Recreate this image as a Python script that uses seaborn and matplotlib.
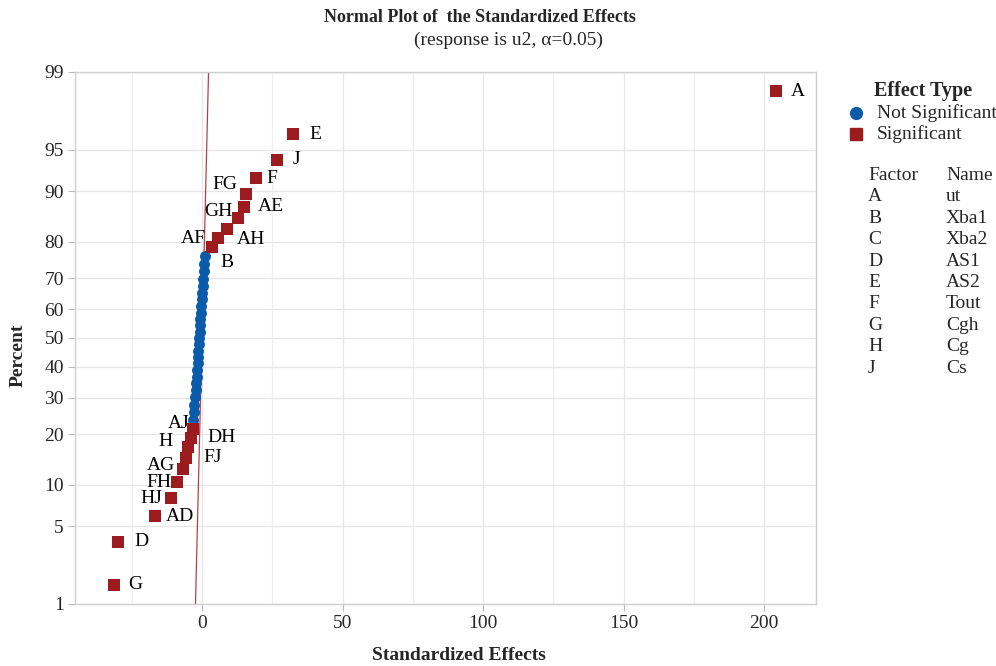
import matplotlib
matplotlib.use("Agg")
import matplotlib.pyplot as plt
from matplotlib.ticker import FixedLocator
import seaborn as sns
import pandas as pd
import numpy as np
from statistics import NormalDist

# ---------------- data ----------------
# standardized effects, sorted ascending (45 effects: 9 main + 36 two-way)
effect_values = [-31.3, -29.8, -16.7, -11.1, -8.8, -6.6, -5.7, -4.9, -3.9, -3.1,
                 -3.3, -3.0, -2.75, -2.5, -2.3, -2.1, -1.9, -1.75, -1.6, -1.45,
                 -1.3, -1.15, -1.0, -0.85, -0.7, -0.55, -0.4, -0.25, -0.1, 0.05,
                 0.2, 0.4, 0.6, 0.85, 1.1,
                 3.4, 5.6, 9.0, 12.9, 15.1, 15.5, 19.2, 26.8, 32.5, 204.3]
effect_labels = ["G", "D", "AD", "HJ", "FH", "AG", "FJ", "H", "DH", "AJ"] + [""] * 25 + \
                ["B", "AF", "AH", "GH", "AE", "FG", "F", "J", "E", "A"]
effect_type = ["Significant"] * 10 + ["Not Significant"] * 25 + ["Significant"] * 10
# label offsets in pixels (dx, dy)
label_dx = [14, 16, 11, -9, -6, -8, 17, -16, 16, -4] + [0] * 25 + \
           [9, -12, 10, -6, 13, -8, 10, 15, 16, 15]
label_dy = [0, 0, 0, -1, 0, 4, 0, 6, 0, 5] + [0] * 25 + \
           [-15, 0, -11, 7, 0, 9, 0, 0, 0, 0]

percent_ticks = [1, 5, 10, 20, 30, 40, 50, 60, 70, 80, 90, 95, 99]
x_ticks = [0, 50, 100, 150, 200]
x_minor = [-25, 25, 75, 125, 175]

factor_letters = ["A", "B", "C", "D", "E", "F", "G", "H", "J"]
factor_names = ["ut", "Xba1", "Xba2", "AS1", "AS2", "Tout", "Cgh", "Cg", "Cs"]

# ---------------- build frame ----------------
nd = NormalDist()
n = len(effect_values)
ranks = np.arange(1, n + 1)
pct = (ranks - 0.3) / (n + 0.4)
df = pd.DataFrame({"effect": effect_values, "label": effect_labels,
                   "type": effect_type, "z": [nd.inv_cdf(p) for p in pct],
                   "dx": label_dx, "dy": label_dy})

sns.set_theme(style="white")
plt.rcParams["font.family"] = ["Liberation Serif", "DejaVu Serif"]

RED = "#9B1B1E"
BLUE = "#0A5BAA"
LFS = 14

fig = plt.figure(figsize=(9.96, 6.66), dpi=100)
ax = fig.add_axes([75 / 996, 1 - 604 / 666, (816 - 75) / 996, (604 - 72) / 666])

zlo, zhi = nd.inv_cdf(0.01), nd.inv_cdf(0.99)

# reference line
ref = pd.DataFrame({"x": [zlo * 1.2, zhi * 1.2], "z": [zlo * 1.2, zhi * 1.2]})
sns.lineplot(data=ref, x="x", y="z", ax=ax, color="#B3414A", linewidth=0.9, zorder=2)

ns = df[df["type"] == "Not Significant"]
sg = df[df["type"] == "Significant"]
sns.scatterplot(data=ns, x="effect", y="z", ax=ax, color=BLUE, marker="o", s=62,
                linewidth=0, zorder=3, legend=False)
sns.scatterplot(data=sg, x="effect", y="z", ax=ax, color=RED, marker="s", s=72,
                linewidth=0, zorder=4, legend=False)

for _, r in sg.iterrows():
    ha = "left" if r["dx"] > 0 else "right"
    ax.annotate(r["label"], (r["effect"], r["z"]), xytext=(r["dx"], r["dy"]),
                textcoords="offset pixels", ha=ha, va="center", fontsize=LFS,
                color="black", zorder=5)

ax.set_xlim(-45.2, 218.5)
ax.set_ylim(zlo, zhi)
ax.set_yticks([nd.inv_cdf(p / 100) for p in percent_ticks])
ax.set_yticklabels([str(p) for p in percent_ticks])
ax.set_xticks(x_ticks)
ax.set_xticklabels([str(t) for t in x_ticks])
ax.xaxis.set_minor_locator(FixedLocator(x_minor))

ax.grid(True, which="major", color="#E6E6E6", linewidth=0.9)
ax.grid(True, which="minor", axis="x", color="#EFEFEF", linewidth=0.9)
ax.set_axisbelow(True)
for sp in ax.spines.values():
    sp.set_color("#CFCFCF")
    sp.set_linewidth(1.0)
ax.tick_params(axis="both", which="major", length=5, width=0.8, color="#BBBBBB",
               labelsize=14, pad=3, direction="out", bottom=True, left=True)
ax.tick_params(axis="x", which="minor", length=0)

ax.set_xlabel("")
ax.set_ylabel("")
fig.text(459 / 996, 1 - 655 / 666, "Standardized Effects", ha="center", va="center",
         fontsize=14, fontweight="bold")
fig.text(18 / 996, 1 - 355 / 666, "Percent", ha="center", va="center", rotation=90,
         fontsize=14, fontweight="bold")

fig.text(480 / 996, 1 - 17 / 666, "Normal Plot of  the Standardized Effects", ha="center",
         va="center", fontsize=13, fontweight="bold")
fig.text(508 / 996, 1 - 40 / 666, "(response is u2, α=0.05)", ha="center", va="center",
         fontsize=14)

# legend
fig.text(923 / 996, 1 - 91 / 666, "Effect Type", ha="center", va="center", fontsize=14.5,
         fontweight="bold")
ax.plot([856 / 996], [1 - 113 / 666], marker="o", markersize=8.5, color=BLUE,
        linestyle="none", transform=fig.transFigure, clip_on=False)
ax.plot([856 / 996], [1 - 134 / 666], marker="s", markersize=8, color=RED,
        linestyle="none", transform=fig.transFigure, clip_on=False)
fig.text(877 / 996, 1 - 113 / 666, "Not Significant", ha="left", va="center", fontsize=LFS)
fig.text(877 / 996, 1 - 134 / 666, "Significant", ha="left", va="center", fontsize=LFS)

fig.text(868 / 996, 1 - 176 / 666, "Factor", ha="left", va="center", fontsize=LFS)
fig.text(946 / 996, 1 - 176 / 666, "Name", ha="left", va="center", fontsize=LFS)
for i, (l, nm) in enumerate(zip(factor_letters, factor_names)):
    y = 1 - (197 + i * 21.4) / 666
    fig.text(868 / 996, y, l, ha="left", va="center", fontsize=LFS)
    fig.text(946 / 996, y, nm, ha="left", va="center", fontsize=LFS)

fig.savefig("out.png", dpi=100)
